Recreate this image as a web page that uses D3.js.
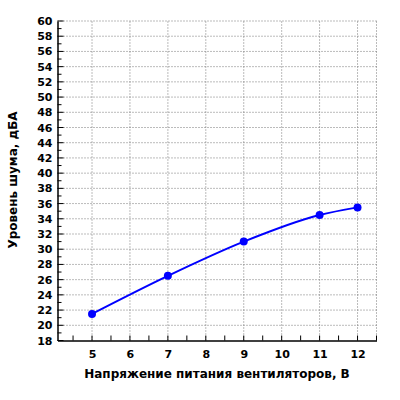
<!DOCTYPE html><html><head><meta charset="utf-8"><script src="https://d3js.org/d3.v7.min.js"></script>
<style>body{margin:0;background:#fff}text{font-family:"DejaVu Sans",sans-serif;font-weight:bold;font-size:11px}</style></head><body><svg width="400" height="400"></svg><script>
const voltages=[5,7,9,11,12];
const noise=[21.5,26.5,31,34.5,35.5];
const xTicks=[5,6,7,8,9,10,11,12];
const yTicks=d3.range(18,61,2);
const xLabel="Напряжение питания вентиляторов, В";
const yLabel="Уровень шума, дБА";
const svg=d3.select("svg");
const x=d3.scaleLinear().domain([4.09,12.5]).range([57.5,376.5]);
const y=d3.scaleLinear().domain([18,60]).range([340.5,21]);
const g=svg.append("g");
g.selectAll(".gx").data(xTicks).join("line").attr("x1",d=>x(d)).attr("x2",d=>x(d)).attr("y1",y(18)).attr("y2",y(60)).attr("stroke","#777").attr("stroke-dasharray","1,2");
g.selectAll(".gy").data(yTicks.slice(1)).join("line").attr("x1",x.range()[0]).attr("x2",x.range()[1]).attr("y1",d=>y(d)).attr("y2",d=>y(d)).attr("stroke","#777").attr("stroke-dasharray","1,2");
g.append("line").attr("x1",x(12.5)).attr("x2",x(12.5)).attr("y1",y(18)).attr("y2",y(60)).attr("stroke","#777").attr("stroke-dasharray","1,2");
const xa=svg.append("g").attr("transform",`translate(0,${y(18)})`).call(d3.axisBottom(x).tickValues(xTicks).tickSize(0).tickPadding(10).tickFormat(d3.format("d")));
xa.select(".domain").attr("stroke","#000").attr("stroke-width",1.5);
svg.append("g").attr("transform",`translate(0,${y(18)})`).selectAll("line").data(d3.range(4.5,12.6,0.5)).join("line").attr("x1",d=>x(d)).attr("x2",d=>x(d)).attr("y1",0).attr("y2",-5).attr("stroke","#000");
const ya=svg.append("g").attr("transform",`translate(${x.range()[0]},0)`).call(d3.axisLeft(y).tickValues(yTicks).tickSize(0).tickPadding(5).tickFormat(d3.format("d")));
ya.select(".domain").attr("stroke","#000").attr("stroke-width",1.5);
svg.append("g").attr("transform",`translate(${x.range()[0]},0)`).selectAll("line").data(d3.range(18,61,1)).join("line").attr("x1",0).attr("x2",d=>d%2?4:6).attr("y1",d=>y(d)).attr("y2",d=>y(d)).attr("stroke","#000");
svg.selectAll(".tick text").attr("fill","#000").style("font-size","11px");
const line=d3.line().x((d,i)=>x(voltages[i])).y(d=>y(d)).curve(d3.curveMonotoneX);
svg.append("path").datum(noise).attr("d",line).attr("fill","none").attr("stroke","#0000ff").attr("stroke-width",2);
svg.selectAll(".pt").data(noise).join("circle").attr("cx",(d,i)=>x(voltages[i])).attr("cy",d=>y(d)).attr("r",4).attr("fill","#0000ff");
svg.append("text").attr("x",217).attr("y",378).attr("text-anchor","middle").style("font-size","12px").text(xLabel);
svg.append("text").attr("transform","translate(17,180) rotate(-90)").attr("text-anchor","middle").style("font-size","12px").text(yLabel);
</script></body></html>
